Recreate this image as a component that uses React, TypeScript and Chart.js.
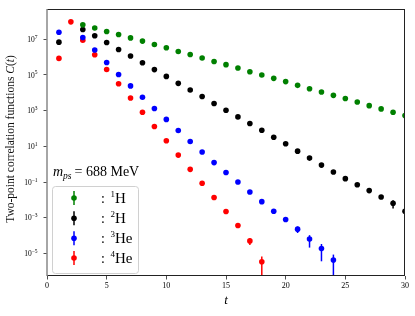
import React, { useEffect, useRef } from "react";
import { Chart, registerables } from "chart.js";

Chart.register(...registerables);

// ---- data ----
const tH1 = [3, 4, 5, 6, 7, 8, 9, 10, 11, 12, 13, 14, 15, 16, 17, 18, 19, 20, 21, 22, 23, 24, 25, 26, 27, 28, 29, 30];
const cH1 = [6.46e7, 4.27e7, 2.75e7, 1.86e7, 1.2e7, 7.94e6, 5.13e6, 3.39e6, 2.09e6, 1.41e6, 8.91e5, 5.75e5, 3.8e5, 2.45e5, 1.51e5, 1.0e5, 6.46e4, 4.27e4, 2.63e4, 1.7e4, 1.12e4, 7.24e3, 4.79e3, 3.09e3, 1.91e3, 1.26e3, 8.13e2, 5.37e2];
const eH1 = [0, 0, 0, 0, 0, 0, 0, 0, 0, 0, 0, 0, 0, 0, 0, 0, 0, 0, 0, 0, 0, 0, 0, 0, 0, 0, 0, 0];

const tH2 = [1, 3, 4, 5, 6, 7, 8, 9, 10, 11, 12, 13, 14, 15, 16, 17, 18, 19, 20, 21, 22, 23, 24, 25, 26, 27, 28, 29, 30];
const cH2 = [6.92e6, 3.55e7, 1.58e7, 6.61e6, 2.69e6, 1.15e6, 4.9e5, 2.0e5, 8.32e4, 3.39e4, 1.45e4, 6.17e3, 2.51e3, 1.05e3, 4.47e2, 1.91e2, 7.94e1, 3.24e1, 1.41e1, 5.37, 2.19, 0.891, 0.363, 0.155, 7.08e-2, 3.31e-2, 1.45e-2, 6.46e-3, 2.29e-3];
const eH2 = [0, 0, 0, 0, 0, 0, 0, 0, 0, 0, 0, 0, 0, 0, 0, 0, 0, 0, 0, 0, 0, 0, 0, 0, 0, 0, 3e-3, 3.2e-3, 1.5e-3];

const tHe3 = [1, 3, 4, 5, 6, 7, 8, 9, 10, 11, 12, 13, 14, 15, 16, 17, 18, 19, 20, 21, 22, 23, 24];
const cHe3 = [2.51e7, 1.26e7, 2.51e6, 5.01e5, 1.07e5, 2.45e4, 5.62e3, 1.32e3, 3.24e2, 7.76e1, 1.86e1, 4.79, 1.23, 0.339, 0.1, 2.75e-2, 7.94e-3, 2.29e-3, 7.94e-4, 2.29e-4, 6.31e-5, 1.86e-5, 4.27e-6];
const eHe3 = [0, 0, 0, 0, 0, 0, 0, 0, 0, 0, 0, 0, 0, 0, 0, 0, 0, 0, 1.5e-4, 9e-5, 4.2e-5, 1.5e-5, 4.3e-6];

const tHe4 = [1, 2, 3, 4, 5, 6, 7, 8, 9, 10, 11, 12, 13, 14, 15, 16, 17, 18];
const cHe4 = [8.51e5, 9.55e7, 8.91e6, 1.35e6, 2.04e5, 3.24e4, 5.13e3, 8.13e2, 1.29e2, 2.04e1, 3.24, 0.513, 8.51e-2, 1.35e-2, 2.24e-3, 3.63e-4, 5.01e-5, 3.39e-6];
const eHe4 = [0, 0, 0, 0, 0, 0, 0, 0, 0, 0, 0, 0, 0, 0, 0, 1e-4, 2.1e-5, 3.4e-6];

const seriesNames = [
  { sup: "1", el: "H" },
  { sup: "2", el: "H" },
  { sup: "3", el: "He" },
  { sup: "4", el: "He" },
];
const seriesColors = ["#008000", "#000000", "#0000ff", "#ff0000"];

const xTicks = [0, 5, 10, 15, 20, 25, 30];
const yTickExponents = [-5, -3, -1, 1, 3, 5, 7];
const yMin = 5.4e-7;
const yMax = 5.0e8;

const SERIF = "'Liberation Serif', 'DejaVu Serif', serif";

function zip(t: number[], c: number[]) {
  return t.map((x, i) => ({ x, y: c[i] }));
}

const errPlugin = {
  id: "errbars",
  beforeDatasetDraw(chart: any, args: any) {
    const ds = chart.data.datasets[args.index];
    const errs: number[] = ds.errs || [];
    const { ctx, chartArea } = chart;
    const y = chart.scales.y;
    ctx.save();
    ctx.beginPath();
    ctx.rect(chartArea.left, chartArea.top, chartArea.right - chartArea.left, chartArea.bottom - chartArea.top);
    ctx.clip();
    ctx.strokeStyle = ds.backgroundColor;
    ctx.lineWidth = 1.5;
    args.meta.data.forEach((pt: any, i: number) => {
      const e = errs[i];
      if (!e) return;
      const v = ds.data[i].y;
      const hi = y.getPixelForValue(v + e);
      const lo = v - e > 0 ? y.getPixelForValue(v - e) : chartArea.bottom + 5;
      ctx.beginPath();
      ctx.moveTo(pt.x, hi);
      ctx.lineTo(pt.x, lo);
      ctx.stroke();
    });
    ctx.restore();
  },
};

const supMap: Record<string, string> = { "-": "\u2212" };

const overlayPlugin = {
  id: "overlay",
  afterDraw(chart: any) {
    const { ctx, chartArea } = chart;
    const y = chart.scales.y;
    const { left, right, top, bottom } = chartArea;
    ctx.save();
    // frame
    ctx.strokeStyle = "#222";
    ctx.lineWidth = 1;
    ctx.beginPath();
    ctx.moveTo(left, top + 0.5);
    ctx.lineTo(right, top + 0.5);
    ctx.moveTo(right - 0.5, top);
    ctx.lineTo(right - 0.5, bottom);
    ctx.moveTo(left, bottom - 0.5);
    ctx.lineTo(right, bottom - 0.5);
    ctx.stroke();
    ctx.strokeStyle = "#888";
    ctx.lineWidth = 1.5;
    ctx.beginPath();
    ctx.moveTo(left, top);
    ctx.lineTo(left, bottom);
    ctx.stroke();

    // y tick labels 10^n
    ctx.fillStyle = "#000";
    ctx.textBaseline = "alphabetic";
    yTickExponents.forEach((ex) => {
      const py = y.getPixelForValue(Math.pow(10, ex));
      const expStr = String(ex).split("").map((ch) => supMap[ch] || ch).join("");
      ctx.font = `5.5px ${SERIF}`;
      const ew = ctx.measureText(expStr).width;
      ctx.font = `7.5px ${SERIF}`;
      const bw = ctx.measureText("10").width;
      const rightEdge = 37.5;
      ctx.textAlign = "left";
      ctx.fillText("10", rightEdge - ew - bw, py + 2.7);
      ctx.font = `5.5px ${SERIF}`;
      ctx.fillText(expStr, rightEdge - ew, py - 0.5);
    });

    // y axis title
    ctx.save();
    ctx.translate(11, 139);
    ctx.rotate(-Math.PI / 2);
    const fs = 11.5;
    ctx.fillStyle = "#111";
    ctx.font = `${fs}px ${SERIF}`;
    const part1 = "Two-point correlation functions ";
    const w1 = ctx.measureText(part1).width;
    ctx.font = `italic ${fs}px ${SERIF}`;
    const w2 = ctx.measureText("C").width;
    ctx.font = `${fs}px ${SERIF}`;
    const w3 = ctx.measureText("(").width;
    ctx.font = `italic ${fs}px ${SERIF}`;
    const w4 = ctx.measureText("t").width;
    ctx.font = `${fs}px ${SERIF}`;
    const w5 = ctx.measureText(")").width;
    let cx = -(w1 + w2 + w3 + w4 + w5) / 2;
    ctx.textAlign = "left";
    ctx.textBaseline = "middle";
    ctx.fillText(part1, cx, 0); cx += w1;
    ctx.font = `italic ${fs}px ${SERIF}`;
    ctx.fillText("C", cx, 0); cx += w2;
    ctx.font = `${fs}px ${SERIF}`;
    ctx.fillText("(", cx, 0); cx += w3;
    ctx.font = `italic ${fs}px ${SERIF}`;
    ctx.fillText("t", cx, 0); cx += w4;
    ctx.font = `${fs}px ${SERIF}`;
    ctx.fillText(")", cx, 0);
    ctx.restore();

    // x axis title
    ctx.font = `italic 13px ${SERIF}`;
    ctx.textAlign = "center";
    ctx.textBaseline = "middle";
    ctx.fillStyle = "#000";
    ctx.fillText("t", (left + right) / 2, 301);

    // annotation m_ps = 688 MeV
    ctx.textAlign = "left";
    ctx.textBaseline = "alphabetic";
    let ax = 53;
    const ay = 176;
    ctx.font = `italic 14px ${SERIF}`;
    ctx.fillText("m", ax, ay);
    ax += ctx.measureText("m").width;
    ctx.font = `italic 9.5px ${SERIF}`;
    ctx.fillText("ps", ax, ay + 3);
    ax += ctx.measureText("ps").width + 3;
    ctx.font = `14px ${SERIF}`;
    ctx.fillText("= 688 MeV", ax, ay);

    // legend box
    ctx.beginPath();
    ctx.roundRect(52.5, 186.5, 86, 87, 3);
    ctx.fillStyle = "rgba(255,255,255,0.8)";
    ctx.fill();
    ctx.strokeStyle = "#d0d0d0";
    ctx.lineWidth = 1;
    ctx.stroke();

    const rows = [198, 218.3, 238.3, 258];
    seriesNames.forEach((s, i) => {
      const ry = rows[i];
      const col = seriesColors[i];
      ctx.strokeStyle = col;
      ctx.lineWidth = 1.5;
      ctx.beginPath();
      ctx.moveTo(74, ry - 7);
      ctx.lineTo(74, ry + 7);
      ctx.stroke();
      ctx.fillStyle = col;
      ctx.beginPath();
      ctx.arc(74, ry, 2.8, 0, Math.PI * 2);
      ctx.fill();
      ctx.fillStyle = "#000";
      ctx.font = `14px ${SERIF}`;
      ctx.textBaseline = "alphabetic";
      ctx.fillText(":", 101, ry + 5);
      ctx.font = `9px ${SERIF}`;
      ctx.fillText(s.sup, 110.5, ry - 1);
      ctx.font = `15px ${SERIF}`;
      ctx.fillText(s.el, 115, ry + 5);
    });

    ctx.restore();
  },
};

export default function App() {
  const ref = useRef<HTMLCanvasElement | null>(null);
  useEffect(() => {
    document.body.style.margin = "0";
    const canvas = ref.current;
    if (!canvas) return;
    const mk = (t: number[], c: number[], e: number[], i: number) => ({
      label: seriesNames[i].sup + seriesNames[i].el,
      data: zip(t, c),
      errs: e,
      backgroundColor: seriesColors[i],
      borderColor: seriesColors[i],
      pointRadius: 2.8,
      pointBorderWidth: 0,
      showLine: false,
    });
    const chart = new Chart(canvas, {
      type: "scatter",
      data: {
        datasets: [
          mk(tH1, cH1, eH1, 0),
          mk(tH2, cH2, eH2, 1),
          mk(tHe3, cHe3, eHe3, 2),
          mk(tHe4, cHe4, eHe4, 3),
        ] as any,
      },
      options: {
        animation: false,
        responsive: false,
        devicePixelRatio: 1,
        layout: { padding: { left: 0, right: 10, top: 9, bottom: 0 } },
        plugins: { legend: { display: false }, tooltip: { enabled: false } },
        scales: {
          x: {
            type: "linear",
            min: 0,
            max: 30,
            afterFit: (s: any) => { s.height = 40; },
            afterBuildTicks: (s: any) => { s.ticks = xTicks.map((v) => ({ value: v })); },
            border: { display: false },
            grid: { drawOnChartArea: false, drawTicks: true, tickLength: 3.5, color: "#222", tickWidth: 0.8 },
            ticks: { color: "#000", font: { family: SERIF, size: 8 }, padding: 2, maxRotation: 0, autoSkip: false },
          },
          y: {
            type: "logarithmic",
            min: yMin,
            max: yMax,
            afterFit: (s: any) => { s.width = 47; },
            afterBuildTicks: (s: any) => { s.ticks = yTickExponents.map((e) => ({ value: Math.pow(10, e) })); },
            border: { display: false },
            grid: { drawOnChartArea: false, drawTicks: true, tickLength: 3.5, color: "#222", tickWidth: 0.8 },
            ticks: { display: true, color: "rgba(0,0,0,0)", font: { family: SERIF, size: 7 }, autoSkip: false },
          },
        },
      },
      plugins: [errPlugin, overlayPlugin],
    });
    return () => chart.destroy();
  }, []);
  return (
    <div style={{ position: "absolute", left: 0, top: 0, width: 415, height: 316 }}>
      <canvas ref={ref} width={415} height={316} style={{ display: "block", width: 415, height: 316 }} />
    </div>
  );
}
